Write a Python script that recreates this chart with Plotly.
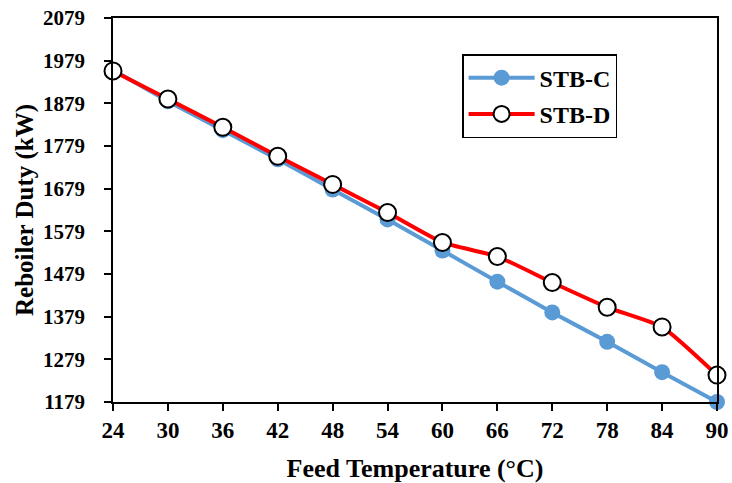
import plotly.graph_objects as go

feed_temp = [24, 30, 36, 42, 48, 54, 60, 66, 72, 78, 84, 90]
stb_c = [1957, 1884, 1816, 1748, 1677, 1607, 1534, 1461, 1389, 1320, 1249, 1179]
stb_d = [1955, 1889, 1823, 1755, 1689, 1623, 1553, 1520, 1459, 1401, 1355, 1242]
y_ticks = [1179, 1279, 1379, 1479, 1579, 1679, 1779, 1879, 1979, 2079]

font_family = "Liberation Serif, Times New Roman, serif"

fig = go.Figure()
fig.add_trace(go.Scatter(
    x=feed_temp, y=stb_c, name="STB-C", mode="lines+markers",
    legendgroup="c",
    line=dict(color="#5B9BD5", width=4, shape="spline", smoothing=0.5),
    marker=dict(color="#5B9BD5", size=16, symbol="circle"),
    cliponaxis=False,
))
fig.add_trace(go.Scatter(
    x=feed_temp, y=stb_d, name="STB-D", mode="lines+markers",
    legendgroup="d",
    line=dict(color="#FF0000", width=4, shape="spline", smoothing=0.5),
    marker=dict(color="white", size=17, symbol="circle",
                line=dict(color="black", width=2)),
    cliponaxis=False,
))

fig.update_layout(
    width=732, height=483,
    margin=dict(l=113, r=15, t=18, b=81),
    paper_bgcolor="white", plot_bgcolor="white",
    font=dict(family=font_family, size=23, color="black"),
    showlegend=True,
    legend=dict(
        x=0.578, y=0.906, xanchor="left", yanchor="top",
        bordercolor="black", borderwidth=1.5, bgcolor="white",
        font=dict(family=font_family, size=24, color="black", weight="bold"),
        itemwidth=66, tracegroupgap=2, traceorder="grouped",
    ),
    xaxis=dict(
        range=[24, 90], tickvals=feed_temp, ticks="outside", ticklen=7,
        tickwidth=1.5, tickcolor="black", automargin=False,
        showline=True, linecolor="black", linewidth=1.5, mirror=True,
        showgrid=False, zeroline=False,
        tickfont=dict(family=font_family, size=23, color="black", weight="bold"),
        title=dict(text="Feed Temperature (°C)",
                   font=dict(family=font_family, size=26, color="black", weight="bold"),
                   standoff=16),
    ),
    yaxis=dict(
        range=[1179, 2079], tickvals=y_ticks, ticks="outside", ticklen=7,
        tickwidth=1.5, tickcolor="black", automargin=False,
        ticklabelstandoff=15,
        showline=True, linecolor="black", linewidth=1.5, mirror=True,
        showgrid=False, zeroline=False,
        tickfont=dict(family=font_family, size=21, color="black", weight="bold"),
    ),
    annotations=[dict(
        text="Reboiler Duty (kW)", textangle=-90, showarrow=False,
        xref="paper", yref="paper", x=-0.1457, y=0.5,
        xanchor="center", yanchor="middle",
        font=dict(family=font_family, size=25, color="black", weight="bold"),
    )],
)

fig.write_html("out.html", config={"displayModeBar": False},
               post_script="document.body.style.margin='0';")
